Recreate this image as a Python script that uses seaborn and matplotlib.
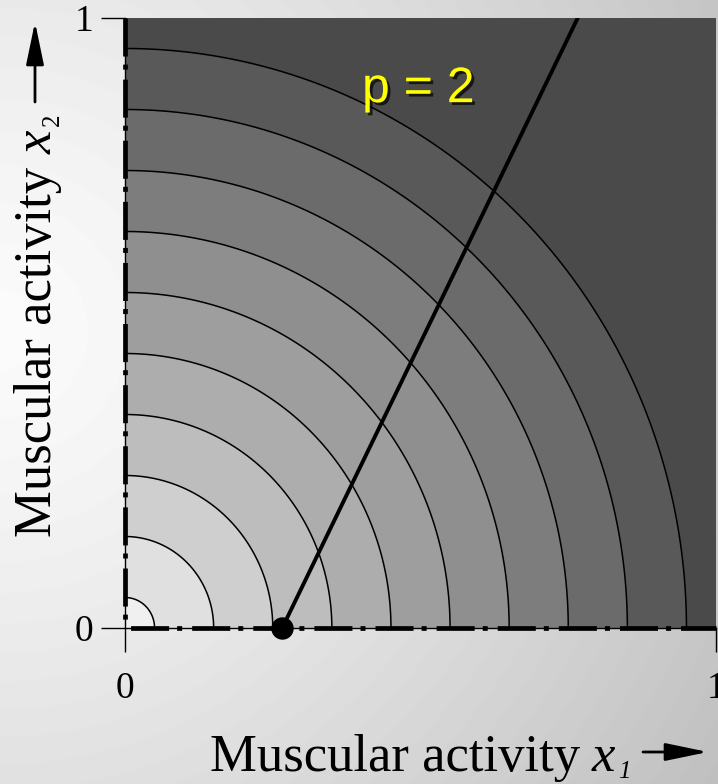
import numpy as np
import matplotlib
matplotlib.use("Agg")
import matplotlib.pyplot as plt
import matplotlib.patheffects as pe
import seaborn as sns

# Iso-cost radii of the quadratic effort ||x||^2 (p = 2)
contour_radii = [0.05, 0.15, 0.25, 0.35, 0.45, 0.55, 0.65, 0.75, 0.85, 0.95]
# Gray level of each band, from the origin outwards
band_grays = [0.94, 0.88, 0.81, 0.74, 0.68, 0.62, 0.56, 0.49, 0.42, 0.35, 0.29]

# Constraint line and its point on the x1 axis
line_x1 = [0.266, 0.766]
line_x2 = [0.0, 1.0]
dot_x1 = [0.266]
dot_x2 = [0.0]

tick_values = [0, 1]
tick_labels = ["0", "1"]
axis_title = "Muscular activity"
x_var, x_sub = "x", "1"
y_var, y_sub = "x", "2"
annotation = "p = 2"

sns.set_theme(style="white")
plt.rcParams["font.family"] = ["Liberation Serif", "DejaVu Serif"]
plt.rcParams["lines.scale_dashes"] = False

W, H = 718, 784
fig = plt.figure(figsize=(W / 100, H / 100), dpi=100)


def fx(px):
    return px / W


def fy(py):
    return 1 - py / H


# Soft radial backdrop
bg = fig.add_axes([0, 0, 1, 1], zorder=-5)
gx, gy = np.meshgrid(np.arange(W), np.arange(H))
d = np.hypot(gx - 0.0, gy - 330.0)
shade = 0.985 - 0.15 * (d / 600.0) ** 1.3
bg.imshow(np.clip(shade, 0, 1), cmap="gray", vmin=0, vmax=1, aspect="auto",
          extent=[0, 1, 0, 1], origin="upper")
bg.set_axis_off()

ax = fig.add_axes([125 / W, 156 / H, 591 / W, 610 / H])
ax.set_facecolor("none")

grid = np.linspace(0, 1, 700)
X1, X2 = np.meshgrid(grid, grid)
R = np.hypot(X1, X2)
levels = [0.0] + contour_radii + [2.0]
ax.contourf(X1, X2, R, levels=levels, colors=[str(g) for g in band_grays])
ax.contour(X1, X2, R, levels=contour_radii, colors="black", linewidths=1.1)

sns.lineplot(x=line_x1, y=line_x2, color="black", linewidth=2.8, ax=ax,
             zorder=4)
sns.scatterplot(x=dot_x1, y=dot_x2, color="black", s=260, ax=ax,
                zorder=6, clip_on=False, edgecolor="black", linewidth=0)

ax.set_xlim(0, 1)
ax.set_ylim(0, 1)

# Dash-dot axes drawn over thin solid spines
ax.plot([0, 1], [0, 0], color="black", lw=3.4, clip_on=False, zorder=5,
        ls=(40, (27.4, 5.8, 3.6, 7.2)), dash_capstyle="butt")
ax.plot([0, 0], [1, 0], color="black", lw=3.4, clip_on=False, zorder=5,
        ls=(0, (27.4, 5.8, 3.6, 7.2)), dash_capstyle="butt")

for side in ["top", "right"]:
    ax.spines[side].set_visible(False)
for side in ["left", "bottom"]:
    ax.spines[side].set_visible(True)
    ax.spines[side].set_color("black")
    ax.spines[side].set_linewidth(1.0)

ax.set_xticks(tick_values)
ax.set_xticklabels(tick_labels)
ax.set_yticks(tick_values)
ax.set_yticklabels(tick_labels)
ax.tick_params(axis="both", which="major", length=17, width=1.0,
               color="black", labelsize=27, labelcolor="black",
               bottom=True, left=True)
ax.tick_params(axis="x", pad=14)
ax.tick_params(axis="y", pad=6)

ax.text(0.401, 0.862, annotation, fontsize=36, family="Liberation Sans",
        color="#ffff00", ha="left", va="baseline", zorder=7,
        path_effects=[pe.SimplePatchShadow(offset=(2, -2),
                                           shadow_rgbFace="black",
                                           alpha=0.7),
                      pe.Normal()])

# Axis titles: words, italic variable, small subscript
title_kw = dict(color="black", ha="left", va="baseline")
fig.text(fx(210), fy(771), axis_title, fontsize=38, **title_kw)
fig.text(fx(592), fy(771), x_var, fontsize=38, style="italic", **title_kw)
fig.text(fx(618), fy(778), x_sub, fontsize=18, style="italic", **title_kw)

rot_kw = dict(rotation=90, rotation_mode="anchor", **title_kw)
fig.text(fx(51), fy(537), axis_title, fontsize=38, **rot_kw)
fig.text(fx(52), fy(154), y_var, fontsize=38, style="italic", **rot_kw)
fig.text(fx(59), fy(126), y_sub, fontsize=18, **rot_kw)

arrow_style = dict(arrowstyle="-|>,head_length=1.3,head_width=0.27",
                   color="black", lw=2.0, mutation_scale=20,
                   shrinkA=0, shrinkB=0)
fig.add_artist(matplotlib.patches.FancyArrowPatch(
    posA=(fx(643), fy(752)), posB=(fx(708), fy(752)),
    transform=fig.transFigure, **arrow_style))
fig.add_artist(matplotlib.patches.FancyArrowPatch(
    posA=(fx(35), fy(102)), posB=(fx(35), fy(22)),
    transform=fig.transFigure, **arrow_style))

fig.savefig("out.png", dpi=100)
